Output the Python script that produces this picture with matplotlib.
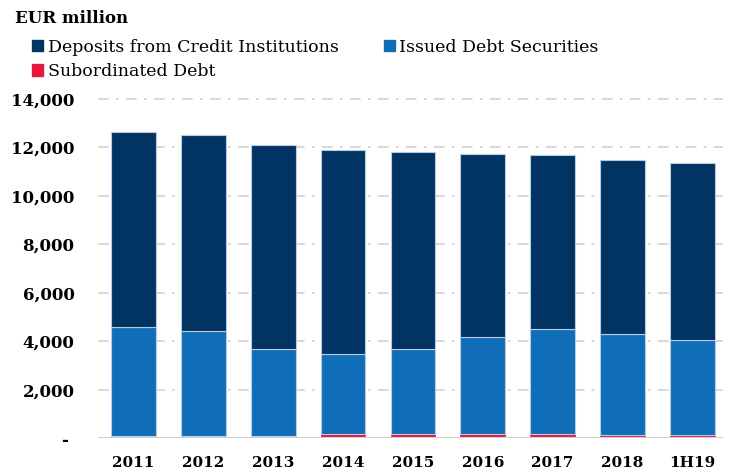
import numpy as np
import matplotlib.pyplot as plt
from matplotlib.patches import Patch

# valores em EUR milhões
anos = ['2011', '2012', '2013', '2014', '2015', '2016', '2017', '2018', '1H19']
subordinada = [100, 100, 100, 170, 170, 170, 170, 120, 120]
titulos = [4480, 4320, 3580, 3300, 3510, 4000, 4330, 4180, 3930]
depositos = [8050, 8080, 8420, 8440, 8130, 7560, 7190, 7180, 7310]

cor_dep = '#023463'
cor_tit = '#106eb8'
cor_sub = '#e8173c'
borda = '#b8cbe0'

plt.rcParams['font.family'] = ['DejaVu Serif']

fig = plt.figure(figsize=(7.33, 4.74), dpi=100)
ax = fig.add_axes([0.1337, 0.0759, 0.8527, 0.7152])

x = np.arange(len(anos))
w = 0.64
sub = np.array(subordinada)
tit = np.array(titulos)
dep = np.array(depositos)

ax.bar(x, sub, w, color=cor_sub, edgecolor=cor_sub, linewidth=0.5, zorder=3)
ax.bar(x, tit, w, bottom=sub, color=cor_tit, edgecolor=borda, linewidth=0.8, zorder=3)
ax.bar(x, dep, w, bottom=sub + tit, color=cor_dep, edgecolor=borda, linewidth=0.8, zorder=3)

ax.set_xlim(-0.51, 8.44)
ax.set_ylim(0, 14000)
yt = np.arange(0, 14001, 2000)
ax.set_yticks(yt)
ax.set_yticklabels(['- '] + [f'{v:,}' for v in yt[1:]])
ax.set_xticks(x)
ax.set_xticklabels(anos)

for v in yt[1:]:
    ax.axhline(v, color='#d6d6d6', linewidth=1.3, linestyle=(0, (6, 4, 1.5, 4)),
               zorder=1, clip_on=False)
ax.axhline(0, color='#cfcfcf', linewidth=1.5, zorder=4)

for s in ax.spines.values():
    s.set_visible(False)
ax.tick_params(length=0)
ax.tick_params(axis='y', pad=17)
ax.tick_params(axis='x', pad=13)
for lab in ax.get_yticklabels():
    lab.set_fontweight('bold')
    lab.set_fontsize(12)
for lab in ax.get_xticklabels():
    lab.set_fontweight('bold')
    lab.set_fontsize(11)

fig.text(0.020, 0.960, 'EUR million', fontsize=12, fontweight='bold', va='center')

handles = [Patch(color=cor_dep), Patch(color=cor_sub), Patch(color=cor_tit)]
labels = ['Deposits from Credit Institutions', 'Subordinated Debt', 'Issued Debt Securities']
fig.legend(handles, labels, ncol=2, loc='upper left', bbox_to_anchor=(0.032, 0.937),
           frameon=False, fontsize=12.5, handlelength=0.65, handleheight=0.65,
           handletextpad=0.25, columnspacing=2.6, labelspacing=0.45, borderpad=0)

fig.savefig('out.png', dpi=100)
